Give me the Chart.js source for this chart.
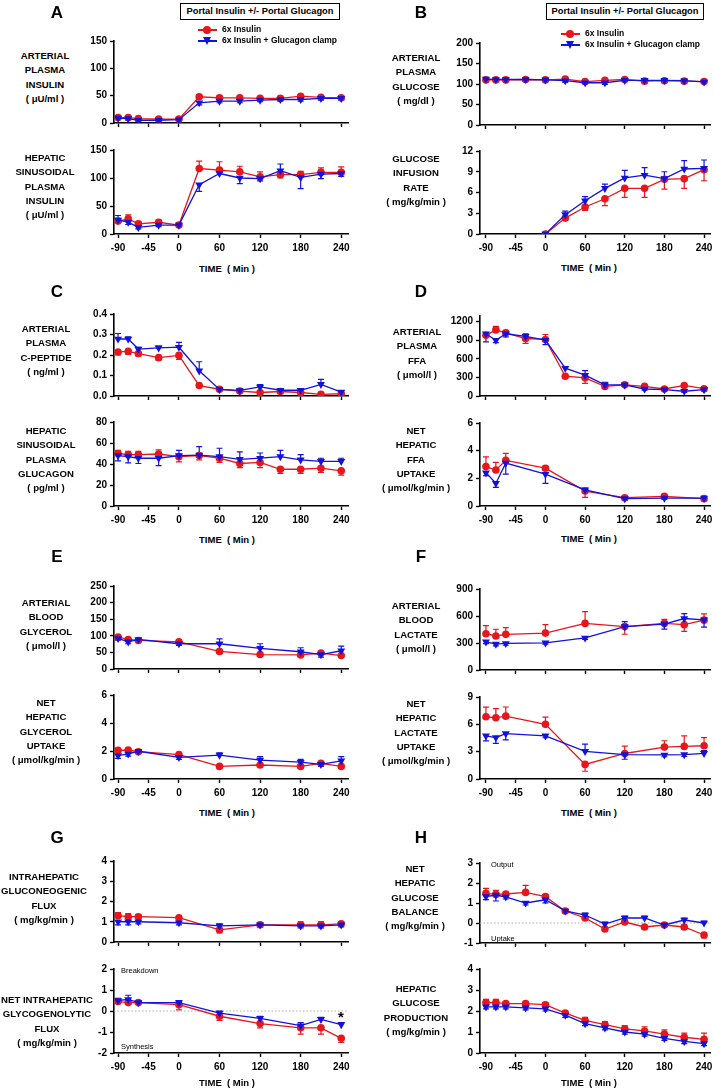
<!DOCTYPE html>
<html>
<head>
<meta charset="utf-8">
<script src="https://cdn.jsdelivr.net/npm/chart.js@4.4.1/dist/chart.umd.min.js"></script>
<style>
  body { margin: 0; background: #fff; }
  #page { position: relative; width: 713px; height: 1091px; overflow: hidden; font-family: "Liberation Sans", Arial, sans-serif; color: #000; }
  #page canvas { position: absolute; }
  .txt { position: absolute; font-weight: bold; font-size: 10px; white-space: nowrap; }
  .rowlab { position: absolute; font-weight: bold; font-size: 9.6px; line-height: 14.3px; text-align: center; transform: translate(-50%, -50%); white-space: nowrap; }
  .letter { position: absolute; font-weight: bold; font-size: 17px; transform: translate(-50%, -50%); }
  .header { position: absolute; border: 1.5px solid #000; font-weight: bold; font-size: 9.3px; text-align: center; line-height: 15px; height: 15px; white-space: nowrap; }
  .small { position: absolute; font-size: 7.5px; white-space: nowrap; }
  .leg { position: absolute; font-size: 8.5px; font-weight: bold; line-height: 11px; white-space: nowrap; }
  .leg div { position: relative; height: 11px; padding-left: 24px; }
  .leg .ln { position: absolute; left: 0; top: 5px; width: 19px; height: 1.5px; }
  .leg .dot { position: absolute; left: 5px; top: 1.5px; width: 8px; height: 8px; border-radius: 50%; background: #e8161b; }
  .leg .tri { position: absolute; left: 5px; top: 2px; width: 0; height: 0; border-left: 4.5px solid transparent; border-right: 4.5px solid transparent; border-top: 8px solid #1212dc; }
</style>
</head>
<body>
<div id="page"></div>
<script>
// ---- data ----
const timeFull = [-90, -75, -60, -30, 0, 30, 60, 90, 120, 150, 180, 210, 240];
const timeInfusion = [0, 30, 60, 90, 120, 150, 180, 210, 240];
const timeSparse = [-90, -75, -60, 0, 60, 120, 180, 210, 240];
const timeFfaUptake = [-90, -75, -60, 0, 60, 120, 180, 240];
const xTickValues = [-90, -45, 0, 60, 120, 180, 240];

// A: arterial insulin
const artInsRed = [10, 10, 8, 7, 7, 48, 46, 46, 45, 45, 49, 47, 46];
const artInsRedErr = [3, 3, 2, 2, 2, 3, 3, 3, 3, 3, 3, 3, 3];
const artInsBlue = [9, 8, 5, 5, 6, 37, 40, 40, 42, 43, 43, 45, 45];
const artInsBlueErr = [-3, -3, -2, -2, -2, -4, -3, -3, -3, -3, -3, -3, -3];
// A: hepatic sinusoidal insulin
const hepInsRed = [23, 27, 18, 21, 16, 117, 114, 111, 102, 106, 106, 110, 110];
const hepInsRedErr = [5, 7, 4, 4, 3, 13, 15, 10, 9, -6, 6, 8, 10];
const hepInsBlue = [25, 21, 12, 16, 16, 88, 108, 100, 99, 113, 101, 107, 108];
const hepInsBlueErr = [8, -4, -3, -3, -3, -12, 8, -10, -4, 12, -20, -8, -5];
// B: arterial glucose
const gluRed = [110, 110, 110, 111, 110, 112, 106, 109, 111, 107, 108, 107, 106];
const gluRedErr = [3, 3, 3, 3, 3, 4, 3, 3, 3, 3, 3, 3, 3];
const gluBlue = [112, 111, 111, 111, 110, 108, 103, 103, 109, 109, 109, 108, 105];
const gluBlueErr = [-3, -3, -3, -3, -3, -4, -3, -4, -3, -3, -3, -3, -3];
// B: glucose infusion rate
const girRed = [0, 2.3, 3.9, 5.1, 6.6, 6.6, 7.9, 8.0, 9.3];
const girRedErr = [0, -0.3, -0.5, -1.0, -1.3, -1.3, -1.4, -1.4, -1.6];
const girBlue = [0, 2.8, 4.8, 6.6, 8.1, 8.5, 8.0, 9.4, 9.5];
const girBlueErr = [0, 0.5, 0.6, 0.6, 1.1, 1.1, 1.0, 1.2, 1.2];
// C: C-peptide
const cpepRed = [0.215, 0.218, 0.207, 0.187, 0.198, 0.051, 0.033, 0.024, 0.017, 0.022, 0.017, 0.008, 0.011];
const cpepRedErr = [-0.015, -0.015, -0.012, -0.012, -0.02, -0.008, -0.005, -0.005, -0.005, -0.005, -0.005, -0.005, -0.005];
const cpepBlue = [0.278, 0.278, 0.229, 0.235, 0.238, 0.123, 0.032, 0.027, 0.044, 0.028, 0.028, 0.057, 0.019];
const cpepBlueErr = [0.027, 0.01, 0.008, 0.008, 0.024, 0.044, 0.006, 0.006, 0.012, 0.006, 0.006, 0.024, 0.006];
// C: hepatic sinusoidal glucagon
const gcgRed = [50, 49, 49, 49.5, 47, 48, 45.5, 40.5, 41.5, 35, 35, 36, 33.5];
const gcgRedErr = [3, 3, 3, 4, -5, -4, -4, -4, -5, -4, -4, -4, -4];
const gcgBlue = [48, 47, 45.5, 45.5, 48, 48.5, 47, 44.5, 45.5, 47, 44, 42.5, 42.5];
const gcgBlueErr = [-5, -6, -5, -7, 5, 8, 8, 7, 5, 6, 5, 3, 3];
// D: arterial FFA
const ffaRed = [978, 1066, 1019, 927, 912, 319, 293, 155, 180, 155, 113, 170, 118];
const ffaRedErr = [40, 56, 40, -80, 80, -20, -90, -30, -20, -20, -20, -20, -20];
const ffaBlue = [1004, 900, 1004, 963, 900, 448, 335, 180, 180, 113, 103, 77, 103];
const ffaBlueErr = [-130, -40, -50, 40, -70, 20, 75, 40, 20, -20, -20, -20, -20];
// D: net hepatic FFA uptake
const ffaUpRed = [2.85, 2.6, 3.3, 2.73, 1.08, 0.6, 0.7, 0.53];
const ffaUpRedErr = [0.7, 0.55, 0.5, 0.15, -0.45, 0.1, 0.1, -0.1];
const ffaUpBlue = [2.4, 1.65, 3.1, 2.3, 1.17, 0.53, 0.57, 0.57];
const ffaUpBlueErr = [-0.2, -0.3, -0.8, -0.67, 0.1, -0.1, -0.1, 0.1];
// E: arterial glycerol
const glyRed = [96, 89, 86, 82, 53, 43.5, 42.5, 48, 40.5];
const glyRedErr = [5, 4, 4, 4, -5, -5, -5, -4, -5];
const glyBlue = [92, 82, 89, 76, 76, 62, 52, 43.5, 55];
const glyBlueErr = [-5, -6, -5, -5, 15, 14, 12, -8, 14];
// E: net hepatic glycerol uptake
const glyUpRed = [2.05, 2.07, 1.95, 1.74, 0.9, 1.0, 0.9, 1.12, 0.9];
const glyUpRedErr = [0.1, 0.1, 0.1, 0.1, -0.1, -0.1, -0.1, 0.1, -0.1];
const glyUpBlue = [1.67, 1.79, 1.98, 1.55, 1.71, 1.35, 1.2, 1.05, 1.3];
const glyUpBlueErr = [-0.2, -0.15, -0.1, -0.15, 0.15, 0.25, 0.2, -0.15, 0.3];
// F: arterial lactate
const lacRed = [403, 378, 396, 410, 518, 482, 518, 504, 554];
const lacRedErr = [90, 75, 75, 95, 130, -85, 45, -75, 70];
const lacBlue = [313, 288, 295, 302, 356, 482, 510, 572, 557];
const lacBlueErr = [-20, -20, -20, -15, -15, 55, -55, 55, -80];
// F: net hepatic lactate uptake
const lacUpRed = [6.83, 6.72, 6.9, 6.0, 1.6, 2.8, 3.5, 3.58, 3.65];
const lacUpRedErr = [1.05, 1.0, 1.0, 0.8, -0.75, 0.8, 0.7, 1.15, 0.9];
const lacUpBlue = [4.73, 4.55, 4.99, 4.73, 3.03, 2.67, 2.64, 2.67, 2.82];
const lacUpBlueErr = [-0.55, -0.65, -0.7, -0.2, 0.8, -0.5, -0.2, -0.2, 0.3];
// G: gluconeogenic flux
const gngRed = [1.3, 1.25, 1.25, 1.2, 0.6, 0.85, 0.85, 0.85, 0.9];
const gngRedErr = [0.15, 0.15, 0.1, 0.1, -0.15, 0.1, 0.15, 0.15, 0.1];
const gngBlue = [1.0, 1.0, 1.0, 0.95, 0.8, 0.85, 0.8, 0.8, 0.85];
const gngBlueErr = [-0.15, -0.15, -0.1, -0.1, 0.1, -0.1, -0.1, -0.1, -0.1];
// G: glycogenolytic flux
const glgRed = [0.45, 0.4, 0.4, 0.3, -0.25, -0.6, -0.8, -0.8, -1.3];
const glgRedErr = [0.1, 0.1, 0.1, -0.25, -0.2, -0.2, -0.3, -0.3, -0.2];
const glgBlue = [0.5, 0.55, 0.4, 0.4, -0.1, -0.35, -0.7, -0.4, -0.65];
const glgBlueErr = [0.1, 0.2, 0.1, 0.1, 0.1, 0.1, 0.15, 0.1, 0.1];
// H: net hepatic glucose balance
const nhgbRed = [1.48, 1.43, 1.45, 1.53, 1.32, 0.6, 0.25, -0.3, 0.05, -0.2, -0.1, -0.2, -0.6];
const nhgbRedErr = [0.25, 0.2, 0.1, 0.35, 0.1, 0.1, 0.15, -0.1, 0.1, -0.1, -0.1, -0.1, -0.15];
const nhgbBlue = [1.32, 1.4, 1.3, 1.0, 1.16, 0.6, 0.4, -0.05, 0.25, 0.25, -0.1, 0.15, 0.0];
const nhgbBlueErr = [-0.15, -0.3, -0.1, -0.1, -0.15, -0.1, 0.1, 0.1, 0.1, 0.1, 0.1, 0.1, 0.1];
// H: hepatic glucose production
const hgpRed = [2.4, 2.4, 2.35, 2.35, 2.3, 1.9, 1.55, 1.35, 1.15, 1.05, 0.9, 0.75, 0.65];
const hgpRedErr = [0.15, 0.15, 0.1, 0.1, 0.1, 0.1, 0.15, 0.15, 0.15, 0.2, 0.2, 0.2, 0.3];
const hgpBlue = [2.2, 2.2, 2.2, 2.15, 2.1, 1.8, 1.4, 1.2, 1.0, 0.9, 0.7, 0.55, 0.45];
const hgpBlueErr = [-0.1, -0.1, -0.1, -0.1, -0.1, -0.1, -0.1, -0.1, -0.1, -0.1, -0.1, -0.1, -0.1];

// y tick labels
const ticksInsulin = [0, 50, 100, 150];
const ticksGlucose = [0, 50, 100, 150, 200];
const ticksGir = [0, 3, 6, 9, 12];
const ticksCpep = [0, 0.1, 0.2, 0.3, 0.4];
const ticksGlucagon = [0, 20, 40, 60, 80];
const ticksFfa = [0, 300, 600, 900, 1200];
const ticksSix = [0, 2, 4, 6];
const ticksGlycerol = [0, 50, 100, 150, 200, 250];
const ticksLactate = [0, 300, 600, 900];
const ticksNine = [0, 3, 6, 9];
const ticksFour = [0, 1, 2, 3, 4];
const ticksFlux = [-2, -1, 0, 1, 2];
const ticksBalance = [-1, 0, 1, 2, 3];

const RED = '#e8161b';
const BLUE = '#1212dc';
const FONT = '"Liberation Sans", Arial, sans-serif';

const page = document.getElementById('page');

// error bars drawn with the chart's own y scale
const errorBars = {
    id: 'errorBars',
    beforeDatasetsDraw(chart) {
        const ctx = chart.ctx;
        const yScale = chart.scales.y;
        chart.data.datasets.forEach((ds, di) => {
            const meta = chart.getDatasetMeta(di);
            ctx.save();
            ctx.strokeStyle = ds.borderColor;
            ctx.lineWidth = 1.2;
            meta.data.forEach((pt, i) => {
                const e = ds.errors[i];
                if (!e) return;
                const py = yScale.getPixelForValue(ds.data[i].y + e);
                ctx.beginPath();
                ctx.moveTo(pt.x, pt.y);
                ctx.lineTo(pt.x, py);
                ctx.moveTo(pt.x - 3, py);
                ctx.lineTo(pt.x + 3, py);
                ctx.stroke();
            });
            ctx.restore();
        });
    }
};

const zeroLine = {
    id: 'zeroLine',
    beforeDatasetsDraw(chart) {
        const ctx = chart.ctx;
        const y0 = chart.scales.y.getPixelForValue(0);
        const a = chart.chartArea;
        ctx.save();
        ctx.strokeStyle = '#b0b0b0';
        ctx.lineWidth = 1;
        ctx.setLineDash([1.5, 2]);
        ctx.beginPath();
        ctx.moveTo(a.left, y0);
        ctx.lineTo(a.right, y0);
        ctx.stroke();
        ctx.restore();
    }
};

function addText(cls, html, left, top, extra) {
    const d = document.createElement('div');
    d.className = cls;
    d.innerHTML = html;
    d.style.left = left + 'px';
    d.style.top = top + 'px';
    if (extra) Object.assign(d.style, extra);
    page.appendChild(d);
    return d;
}

const YW = 40, PT = 8, PR = 8;

function makePanel(p) {
    const XH = p.bottomAxis ? 24 : 7;
    const c = document.createElement('canvas');
    const w = YW + p.w + PR;
    const h = PT + p.h + XH;
    c.width = w; c.height = h;
    c.style.left = (p.left - YW) + 'px';
    c.style.top = (p.top - PT) + 'px';
    page.appendChild(c);

    const plugins = [errorBars];
    if (p.zero) plugins.push(zeroLine);

    new Chart(c, {
        type: 'line',
        data: {
            datasets: [
                {
                    data: p.time.map((t, i) => ({ x: t, y: p.blue[i] })),
                    errors: p.blueErr,
                    borderColor: BLUE, backgroundColor: BLUE,
                    borderWidth: 1.3, pointStyle: 'triangle', pointRotation: 180,
                    pointRadius: 4.6, pointBorderWidth: 0, tension: 0
                },
                {
                    data: p.time.map((t, i) => ({ x: t, y: p.red[i] })),
                    errors: p.redErr,
                    borderColor: RED, backgroundColor: RED,
                    borderWidth: 1.3, pointStyle: 'circle',
                    pointRadius: 3.8, pointBorderWidth: 0, tension: 0
                }
            ]
        },
        options: {
            responsive: false,
            animation: false,
            devicePixelRatio: 1,
            layout: { padding: { top: PT, right: PR, left: 0, bottom: 0 } },
            plugins: { legend: { display: false }, tooltip: { enabled: false } },
            scales: {
                x: {
                    type: 'linear',
                    min: p.xmin, max: p.xmax,
                    afterFit: s => { s.height = XH; },
                    afterBuildTicks: s => { s.ticks = xTickValues.map(v => ({ value: v })); },
                    border: { display: true, color: '#000', width: 1.6 },
                    grid: { drawOnChartArea: false, drawTicks: true, tickLength: 4, tickColor: '#000', tickWidth: 1.4 },
                    ticks: {
                        display: !!p.bottomAxis, color: '#000', padding: 4,
                        maxRotation: 0, autoSkip: false,
                        font: { family: FONT, size: 10, weight: 'bold' }
                    }
                },
                y: {
                    min: p.ymin, max: p.ymax,
                    afterFit: s => { s.width = YW; },
                    afterBuildTicks: s => { s.ticks = p.yticks.map(v => ({ value: v })); },
                    border: { display: true, color: '#000', width: 1.6 },
                    grid: { drawOnChartArea: false, drawTicks: true, tickLength: 4, tickColor: '#000', tickWidth: 1.4 },
                    ticks: {
                        color: '#000', padding: 3,
                        font: { family: FONT, size: 10, weight: 'bold' },
                        callback: p.fmt || (v => String(v))
                    }
                }
            }
        },
        plugins: plugins
    });
}

// layout (pixels of the page)
const L = { left: 114, w: 234, xmin: -96, xmax: 250 };
const R = { left: 480, w: 230, xmin: -99, xmax: 249 };

const panels = [
    { col: L, top: 40, h: 85, time: timeFull, red: artInsRed, redErr: artInsRedErr, blue: artInsBlue, blueErr: artInsBlueErr, ymin: 0, ymax: 150, yticks: ticksInsulin },
    { col: L, top: 149, h: 85, time: timeFull, red: hepInsRed, redErr: hepInsRedErr, blue: hepInsBlue, blueErr: hepInsBlueErr, ymin: 0, ymax: 150, yticks: ticksInsulin, bottomAxis: true },
    { col: R, top: 42, h: 85, time: timeFull, red: gluRed, redErr: gluRedErr, blue: gluBlue, blueErr: gluBlueErr, ymin: 0, ymax: 200, yticks: ticksGlucose },
    { col: R, top: 150, h: 84, time: timeInfusion, red: girRed, redErr: girRedErr, blue: girBlue, blueErr: girBlueErr, ymin: 0, ymax: 12, yticks: ticksGir, bottomAxis: true },
    { col: L, top: 313, h: 85, time: timeFull, red: cpepRed, redErr: cpepRedErr, blue: cpepBlue, blueErr: cpepBlueErr, ymin: 0, ymax: 0.4, yticks: ticksCpep, fmt: v => v.toFixed(1) },
    { col: L, top: 421, h: 85, time: timeFull, red: gcgRed, redErr: gcgRedErr, blue: gcgBlue, blueErr: gcgBlueErr, ymin: 0, ymax: 80, yticks: ticksGlucagon, bottomAxis: true },
    { col: R, top: 315, h: 83, time: timeFull, red: ffaRed, redErr: ffaRedErr, blue: ffaBlue, blueErr: ffaBlueErr, ymin: 0, ymax: 1290, yticks: ticksFfa },
    { col: R, top: 422, h: 84, time: timeFfaUptake, red: ffaUpRed, redErr: ffaUpRedErr, blue: ffaUpBlue, blueErr: ffaUpBlueErr, ymin: 0, ymax: 6, yticks: ticksSix, bottomAxis: true },
    { col: L, top: 585, h: 86, time: timeSparse, red: glyRed, redErr: glyRedErr, blue: glyBlue, blueErr: glyBlueErr, ymin: 0, ymax: 250, yticks: ticksGlycerol },
    { col: L, top: 694, h: 85, time: timeSparse, red: glyUpRed, redErr: glyUpRedErr, blue: glyUpBlue, blueErr: glyUpBlueErr, ymin: 0, ymax: 6, yticks: ticksSix, bottomAxis: true },
    { col: R, top: 588, h: 84, time: timeSparse, red: lacRed, redErr: lacRedErr, blue: lacBlue, blueErr: lacBlueErr, ymin: 0, ymax: 900, yticks: ticksLactate },
    { col: R, top: 696, h: 83, time: timeSparse, red: lacUpRed, redErr: lacUpRedErr, blue: lacUpBlue, blueErr: lacUpBlueErr, ymin: 0, ymax: 9, yticks: ticksNine, bottomAxis: true },
    { col: L, top: 860, h: 84, time: timeSparse, red: gngRed, redErr: gngRedErr, blue: gngBlue, blueErr: gngBlueErr, ymin: 0, ymax: 4, yticks: ticksFour },
    { col: L, top: 968, h: 85, time: timeSparse, red: glgRed, redErr: glgRedErr, blue: glgBlue, blueErr: glgBlueErr, ymin: -2, ymax: 2, yticks: ticksFlux, bottomAxis: true, zero: true },
    { col: R, top: 862, h: 83, time: timeFull, red: nhgbRed, redErr: nhgbRedErr, blue: nhgbBlue, blueErr: nhgbBlueErr, ymin: -1, ymax: 3, yticks: ticksBalance, zero: true },
    { col: R, top: 968, h: 85, time: timeFull, red: hgpRed, redErr: hgpRedErr, blue: hgpBlue, blueErr: hgpBlueErr, ymin: 0, ymax: 4, yticks: ticksFour, bottomAxis: true }
];

panels.forEach(p => makePanel(Object.assign({ left: p.col.left, w: p.col.w, xmin: p.col.xmin, xmax: p.col.xmax }, p)));

// row labels
const rowLabels = [
    [45, 78, ['ARTERIAL', 'PLASMA', 'INSULIN', '( μU/ml )']],
    [45, 187, ['HEPATIC', 'SINUSOIDAL', 'PLASMA', 'INSULIN', '( μU/ml )']],
    [416, 80, ['ARTERIAL', 'PLASMA', 'GLUCOSE', '( mg/dl )']],
    [416, 181, ['GLUCOSE', 'INFUSION', 'RATE', '( mg/kg/min )']],
    [46, 351, ['ARTERIAL', 'PLASMA', 'C-PEPTIDE', '( ng/ml )']],
    [46, 460, ['HEPATIC', 'SINUSOIDAL', 'PLASMA', 'GLUCAGON', '( pg/ml )']],
    [417, 354, ['ARTERIAL', 'PLASMA', 'FFA', '( μmol/l )']],
    [416, 460, ['NET', 'HEPATIC', 'FFA', 'UPTAKE', '( μmol/kg/min )']],
    [46, 625, ['ARTERIAL', 'BLOOD', 'GLYCEROL', '( μmol/l )']],
    [46, 732, ['NET', 'HEPATIC', 'GLYCEROL', 'UPTAKE', '( μmol/kg/min )']],
    [416, 628, ['ARTERIAL', 'BLOOD', 'LACTATE', '( μmol/l )']],
    [416, 733, ['NET', 'HEPATIC', 'LACTATE', 'UPTAKE', '( μmol/kg/min )']],
    [44, 899, ['INTRAHEPATIC', 'GLUCONEOGENIC', 'FLUX', '( mg/kg/min )']],
    [47, 1022, ['NET INTRAHEPATIC', 'GLYCOGENOLYTIC', 'FLUX', '( mg/kg/min )']],
    [415, 898, ['NET', 'HEPATIC', 'GLUCOSE', 'BALANCE', '( mg/kg/min )']],
    [416, 1011, ['HEPATIC', 'GLUCOSE', 'PRODUCTION', '( mg/kg/min )']]
];
rowLabels.forEach(([x, y, lines]) => addText('rowlab', lines.join('<br>'), x, y));

// panel letters
[['A', 57, 13], ['B', 421, 13], ['C', 57, 292], ['D', 421, 292],
 ['E', 57, 557], ['F', 421, 557], ['G', 57, 838], ['H', 421, 838]]
    .forEach(([t, x, y]) => addText('letter', t, x, y));

// TIME labels
[[227, 268], [589, 267], [227, 539], [589, 538], [227, 812], [589, 812], [227, 1082], [589, 1082]]
    .forEach(([x, y]) => addText('txt', 'TIME&nbsp;&nbsp;( Min )', x, y, { transform: 'translate(-50%,-50%)', fontSize: '9.5px' }));

// header boxes
addText('header', 'Portal Insulin +/- Portal Glucagon', 180, 3, { width: '158px' });
addText('header', 'Portal Insulin +/- Portal Glucagon', 546, 3, { width: '156px' });

// legends
function legend(x, y) {
    addText('leg',
        '<div><span class="ln" style="background:' + RED + '"></span><span class="dot"></span>6x Insulin</div>' +
        '<div><span class="ln" style="background:' + BLUE + '"></span><span class="tri"></span>6x Insulin + Glucagon clamp</div>',
        x, y);
}
legend(198, 24);
legend(561, 28);

// annotations
addText('small', 'Output', 491, 860);
addText('small', 'Uptake', 491, 934);
addText('small', 'Breakdown', 121, 966);
addText('small', 'Synthesis', 121, 1042);
addText('txt', '*', 341, 1016, { transform: 'translate(-50%,-50%)', fontSize: '15px' });
</script>
</body>
</html>
